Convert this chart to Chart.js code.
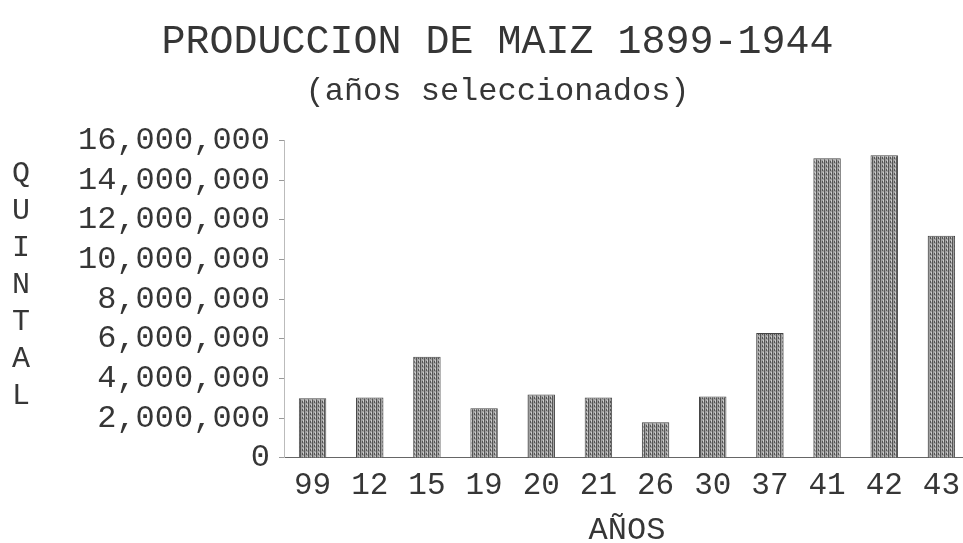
<!DOCTYPE html>
<html>
<head>
<meta charset="utf-8">
<title>Produccion de maiz</title>
<script src="https://cdn.jsdelivr.net/npm/chart.js@4"></script>
<style>
  html, body { margin: 0; padding: 0; background: #fff; }
  #wrap { width: 963px; height: 543px; overflow: hidden; }
</style>
</head>
<body>
<div id="wrap"><canvas id="maizCanvas" width="971" height="547"></canvas></div>
<script>
// años seleccionados (dos últimos dígitos)
const years = ['99', '12', '15', '19', '20', '21', '26', '30', '37', '41', '42', '43'];
// producción en quintales
const quintales = [3000000, 3050000, 5100000, 2500000, 3200000, 3050000, 1800000, 3100000, 6300000, 15100000, 15250000, 11200000];
const yTicks = [0, 2000000, 4000000, 6000000, 8000000, 10000000, 12000000, 14000000, 16000000];
const yLetters = ['Q', 'U', 'I', 'N', 'T', 'A', 'L'];

const mono = "'Liberation Mono', 'DejaVu Sans Mono', monospace";
const ink = '#363636';

// textura gris de las barras (rayas verticales como en la fotocopia)
function barPattern() {
  const c = document.createElement('canvas');
  c.width = 4; c.height = 4;
  const g = c.getContext('2d');
  g.fillStyle = '#a0a0a0';
  g.fillRect(0, 0, 4, 4);
  g.fillStyle = '#555';
  g.fillRect(0, 0, 1, 4);
  g.fillRect(2, 1, 1, 2);
  g.fillStyle = '#cccccc';
  g.fillRect(3, 0, 1, 2);
  return g.createPattern(c, 'repeat');
}

// dibuja "QUINTAL" en letras apiladas a la izquierda
const stackedTitle = {
  id: 'stackedTitle',
  afterDraw(chart) {
    const ctx = chart.ctx;
    ctx.save();
    ctx.font = '30px ' + mono;
    ctx.fillStyle = ink;
    ctx.textAlign = 'center';
    ctx.textBaseline = 'middle';
    yLetters.forEach((ch, i) => {
      ctx.fillText(ch, 21, 174 + i * 37);
    });
    ctx.restore();
  }
};

new Chart(document.getElementById('maizCanvas'), {
  type: 'bar',
  data: {
    labels: years,
    datasets: [{
      label: 'Quintales',
      data: quintales,
      backgroundColor: barPattern(),
      borderColor: '#444',
      borderWidth: 1,
      barPercentage: 0.48,
      categoryPercentage: 1
    }]
  },
  options: {
    responsive: false,
    animation: false,
    layout: { padding: { left: 24, right: 0, top: 0, bottom: 0 } },
    plugins: {
      legend: { display: false },
      tooltip: { enabled: false },
      title: {
        display: true,
        text: 'PRODUCCION DE MAIZ 1899-1944',
        color: ink,
        font: { family: mono, size: 40, weight: 'normal' },
        padding: { top: 18, bottom: 0 }
      },
      subtitle: {
        display: true,
        text: '(años seleccionados)',
        color: ink,
        font: { family: mono, size: 32, weight: 'normal' },
        padding: { top: 6, bottom: 30 }
      }
    },
    scales: {
      x: {
        grid: { display: false, drawTicks: false },
        border: { display: true, color: '#666', dash: [3, 3] },
        ticks: { color: ink, font: { family: mono, size: 31, lineHeight: 1.1 }, padding: 11, maxRotation: 0 },
        title: {
          display: true,
          text: 'AÑOS',
          color: ink,
          font: { family: mono, size: 32, weight: 'normal', lineHeight: 1 },
          padding: { top: 1, bottom: 0 }
        }
      },
      y: {
        min: 0,
        max: 16000000,
        afterFit(scale) { scale.width = 260; },
        afterBuildTicks(scale) { scale.ticks = yTicks.map(v => ({ value: v })); },
        grid: { drawOnChartArea: false, tickLength: 5, color: '#999' },
        border: { display: true, color: '#bbb', dash: [1, 4] },
        ticks: {
          color: ink,
          autoSkip: false,
          font: { family: mono, size: 32 },
          padding: 9,
          callback: v => v.toLocaleString('en-US')
        }
      }
    }
  },
  plugins: [stackedTitle]
});
</script>
</body>
</html>
